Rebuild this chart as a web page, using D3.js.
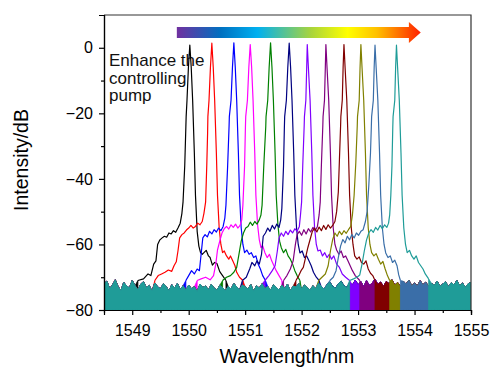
<!DOCTYPE html>
<html>
<head>
<meta charset="utf-8">
<script src="https://cdn.jsdelivr.net/npm/d3@7"></script>
<style>
  body { margin: 0; background: #fff; }
  text { font-family: Arial, "Liberation Sans", sans-serif; }
</style>
</head>
<body>
<div id="chart"></div>
<script>
// spectra: [wavelength nm, intensity dB]
var sBlack = [[1549.10,-71],[1549.20,-70.5],[1549.28,-69],[1549.33,-69.5],[1549.38,-66],[1549.42,-65],[1549.45,-60],[1549.49,-58.6],[1549.53,-58],[1549.57,-57.5],[1549.61,-57.8],[1549.65,-56.5],[1549.69,-56.8],[1549.73,-55.8],[1549.77,-56.3],[1549.81,-55],[1549.85,-53.5],[1549.88,-50.5],[1549.90,-47],[1549.93,-36],[1549.95,-24],[1549.955,-21],[1549.97,-16],[1549.995,-6],[1550.02,0.8],[1550.045,-6],[1550.07,-16],[1550.10,-32],[1550.12,-45],[1550.15,-56],[1550.18,-60.5],[1550.21,-62.5],[1550.24,-63],[1550.27,-62.5],[1550.31,-61.8],[1550.35,-63.5],[1550.38,-64],[1550.42,-66.3],[1550.46,-65.5],[1550.50,-65.8],[1550.55,-68.3],[1550.60,-69.5],[1550.66,-71]];
var sRed = [[1549.40,-71],[1549.46,-69.5],[1549.52,-69],[1549.58,-68.5],[1549.64,-67.8],[1549.70,-68.2],[1549.74,-66.5],[1549.78,-65.3],[1549.81,-62],[1549.84,-58],[1549.88,-57],[1549.92,-56.5],[1549.96,-55.6],[1550.00,-55],[1550.04,-54.2],[1550.08,-55],[1550.12,-54.5],[1550.16,-53.5],[1550.20,-54],[1550.24,-53],[1550.27,-50.5],[1550.30,-47],[1550.32,-36],[1550.335,-26],[1550.34,-21],[1550.36,-16],[1550.385,-6],[1550.41,1.4],[1550.435,-6],[1550.46,-16],[1550.49,-32],[1550.51,-45],[1550.54,-55],[1550.57,-60],[1550.60,-62.5],[1550.63,-62],[1550.67,-63.5],[1550.71,-64.5],[1550.74,-63.5],[1550.78,-65],[1550.82,-66.5],[1550.85,-68.5],[1550.90,-70],[1550.96,-71]];
var sBlue = [[1549.95,-71],[1550.00,-69.5],[1550.05,-68],[1550.10,-69],[1550.15,-67.5],[1550.19,-68],[1550.22,-63],[1550.25,-58],[1550.29,-57],[1550.33,-57.7],[1550.37,-56],[1550.41,-56.8],[1550.45,-55.5],[1550.49,-56.2],[1550.53,-55],[1550.57,-55.8],[1550.61,-54.5],[1550.64,-52],[1550.66,-48],[1550.69,-36],[1550.715,-24],[1550.72,-21],[1550.75,-16],[1550.775,-6],[1550.80,1.5],[1550.825,-6],[1550.85,-16],[1550.88,-32],[1550.90,-45],[1550.93,-55],[1550.96,-60],[1550.99,-62.5],[1551.03,-61.7],[1551.07,-63],[1551.11,-62.5],[1551.15,-64],[1551.19,-63.5],[1551.23,-66],[1551.27,-67.5],[1551.31,-69.5],[1551.36,-71]];
var sMagenta = [[1550.15,-71],[1550.22,-70.5],[1550.30,-70],[1550.38,-70.8],[1550.44,-69.5],[1550.48,-66],[1550.51,-61.7],[1550.55,-59],[1550.59,-56.5],[1550.63,-55.2],[1550.67,-54.5],[1550.71,-55.3],[1550.75,-54],[1550.79,-54.8],[1550.83,-53.8],[1550.87,-55],[1550.91,-54.2],[1550.94,-52.5],[1550.96,-48],[1550.99,-36],[1551.005,-24],[1551.01,-21],[1551.04,-16],[1551.065,-6],[1551.09,1],[1551.115,-6],[1551.14,-16],[1551.17,-32],[1551.19,-45],[1551.22,-54],[1551.25,-58.5],[1551.28,-61],[1551.31,-60.4],[1551.35,-62.5],[1551.39,-64],[1551.43,-63],[1551.47,-65],[1551.51,-66.5],[1551.55,-68],[1551.60,-69.5],[1551.65,-71]];
var sGreen = [[1550.60,-71],[1550.67,-70],[1550.74,-69.5],[1550.80,-68.5],[1550.85,-67],[1550.89,-63],[1550.93,-59],[1550.97,-56.5],[1551.01,-55],[1551.05,-54.5],[1551.09,-53.2],[1551.13,-54.2],[1551.17,-53],[1551.21,-53.8],[1551.25,-52.5],[1551.28,-51],[1551.30,-48],[1551.33,-36],[1551.365,-24],[1551.37,-21],[1551.40,-16],[1551.425,-6],[1551.45,1.5],[1551.475,-6],[1551.50,-16],[1551.53,-32],[1551.55,-45],[1551.58,-54],[1551.61,-59],[1551.64,-61],[1551.68,-62.5],[1551.72,-61.5],[1551.76,-63.5],[1551.80,-64.5],[1551.84,-66],[1551.88,-68],[1551.92,-69.5],[1551.97,-71]];
var sNavy = [[1550.95,-71],[1551.02,-70],[1551.08,-67.5],[1551.12,-65.5],[1551.17,-66.5],[1551.21,-65],[1551.25,-66],[1551.29,-63],[1551.32,-57.5],[1551.36,-56.5],[1551.40,-55],[1551.44,-56],[1551.48,-54.2],[1551.52,-55.3],[1551.56,-53.8],[1551.60,-54.8],[1551.63,-52.5],[1551.65,-49],[1551.68,-36],[1551.695,-24],[1551.70,-21],[1551.73,-16],[1551.755,-6],[1551.78,1.4],[1551.805,-6],[1551.83,-16],[1551.86,-32],[1551.88,-45],[1551.91,-55],[1551.94,-60],[1551.97,-62.6],[1552.01,-62],[1552.05,-64],[1552.09,-63.5],[1552.13,-65],[1552.17,-66.5],[1552.21,-68.5],[1552.26,-70],[1552.31,-71]];
var sViolet = [[1551.35,-71],[1551.42,-69.5],[1551.48,-68],[1551.53,-66.5],[1551.57,-62],[1551.60,-58],[1551.64,-56.5],[1551.68,-57.5],[1551.72,-56],[1551.76,-57],[1551.80,-55.6],[1551.84,-56.5],[1551.88,-55.2],[1551.92,-56],[1551.96,-54.5],[1551.98,-51],[1552.00,-47],[1552.02,-36],[1552.045,-24],[1552.05,-21],[1552.075,-16],[1552.09,-6],[1552.10,1],[1552.12,-6],[1552.15,-16],[1552.18,-32],[1552.20,-45],[1552.23,-55],[1552.26,-60],[1552.29,-62],[1552.33,-61.7],[1552.37,-63.5],[1552.41,-62.5],[1552.45,-64],[1552.49,-63],[1552.53,-64.5],[1552.57,-63.5],[1552.62,-66],[1552.67,-67],[1552.72,-69],[1552.78,-70],[1552.85,-71]];
var sPurple = [[1551.68,-71],[1551.74,-69.5],[1551.80,-67.5],[1551.85,-65],[1551.89,-60],[1551.92,-57],[1551.96,-56],[1552.00,-57.2],[1552.04,-55.5],[1552.08,-56.8],[1552.12,-55.2],[1552.16,-56.2],[1552.20,-54.8],[1552.24,-55.8],[1552.28,-54.5],[1552.31,-51],[1552.33,-47],[1552.35,-36],[1552.375,-24],[1552.38,-21],[1552.405,-16],[1552.42,-6],[1552.43,1],[1552.45,-6],[1552.48,-16],[1552.51,-32],[1552.53,-45],[1552.56,-55],[1552.59,-60],[1552.62,-61.7],[1552.66,-63],[1552.70,-62],[1552.74,-64],[1552.78,-63.5],[1552.82,-65],[1552.86,-66.5],[1552.90,-68],[1552.95,-69.5],[1553.03,-71]];
var sWine = [[1551.90,-71],[1551.95,-69.5],[1551.99,-68],[1552.03,-67],[1552.07,-64],[1552.11,-61],[1552.15,-58.5],[1552.19,-56],[1552.23,-55],[1552.27,-56.2],[1552.31,-54.7],[1552.35,-55.8],[1552.39,-54.2],[1552.43,-55.4],[1552.47,-54],[1552.51,-55],[1552.55,-54.2],[1552.59,-53],[1552.62,-50],[1552.65,-44],[1552.67,-34],[1552.69,-24],[1552.695,-21],[1552.72,-16],[1552.735,-6],[1552.75,1],[1552.77,-6],[1552.80,-16],[1552.83,-32],[1552.85,-45],[1552.88,-55],[1552.91,-60],[1552.94,-63.5],[1552.98,-64.5],[1553.02,-63.8],[1553.06,-65.5],[1553.10,-66],[1553.14,-65],[1553.18,-67.5],[1553.22,-68.8],[1553.26,-69.5],[1553.30,-71]];
var sOlive = [[1552.30,-71],[1552.36,-70],[1552.42,-69],[1552.47,-66.5],[1552.51,-62],[1552.55,-58.5],[1552.59,-56.5],[1552.63,-57.5],[1552.67,-56],[1552.71,-57],[1552.75,-55.8],[1552.79,-56.6],[1552.83,-55.5],[1552.87,-54.5],[1552.90,-51],[1552.93,-45],[1552.96,-35],[1552.985,-24],[1552.99,-21],[1553.02,-16],[1553.035,-6],[1553.05,1],[1553.07,-6],[1553.10,-16],[1553.13,-32],[1553.15,-45],[1553.18,-55],[1553.21,-60],[1553.24,-62.5],[1553.28,-63.5],[1553.32,-62.8],[1553.36,-64.5],[1553.40,-66],[1553.44,-65.2],[1553.48,-67.5],[1553.52,-69.5],[1553.56,-71]];
var sRoyal = [[1552.50,-71],[1552.56,-70],[1552.61,-68],[1552.65,-64],[1552.69,-60.5],[1552.73,-58.5],[1552.77,-59.5],[1552.81,-57.5],[1552.85,-58.6],[1552.89,-57],[1552.93,-58],[1552.97,-56.5],[1553.01,-57.2],[1553.05,-56],[1553.09,-55.5],[1553.13,-53],[1553.16,-50],[1553.19,-42],[1553.22,-32],[1553.235,-24],[1553.24,-21],[1553.27,-16],[1553.285,-6],[1553.30,0.8],[1553.32,-6],[1553.35,-16],[1553.38,-32],[1553.40,-45],[1553.43,-55],[1553.46,-60],[1553.49,-62.6],[1553.53,-64],[1553.57,-63.5],[1553.61,-65.5],[1553.65,-64.8],[1553.69,-66.5],[1553.72,-69.3],[1553.75,-71]];
var sCyan = [[1552.85,-71],[1552.92,-70.5],[1552.98,-70],[1553.03,-69.3],[1553.07,-66],[1553.11,-62],[1553.15,-58.6],[1553.19,-56.5],[1553.23,-55.5],[1553.27,-56.3],[1553.31,-54.8],[1553.35,-55.6],[1553.39,-54.2],[1553.43,-55.2],[1553.47,-54],[1553.51,-54.8],[1553.54,-53.5],[1553.56,-51],[1553.58,-45],[1553.60,-36],[1553.615,-24],[1553.62,-21],[1553.65,-16],[1553.665,-6],[1553.68,0.8],[1553.70,-6],[1553.73,-16],[1553.76,-32],[1553.78,-45],[1553.81,-55],[1553.84,-60],[1553.87,-62.5],[1553.91,-61.8],[1553.95,-63.5],[1553.99,-64.5],[1554.03,-63.5],[1554.07,-65.5],[1554.11,-66.5],[1554.15,-67.5],[1554.19,-69],[1554.25,-70.5]];

// noise floor top edge, every 0.05 nm from 1548.5 nm
var floorStart = 1548.5, floorStep = 0.05;
var floorTop = [
  -72.0,-71.2,-73.5,-72.4,-70.8,-72.9,-74.1,-71.6,-72.7,-73.3,
  -71.0,-72.6,-73.9,-72.1,-71.4,-73.2,-72.5,-74.3,-71.8,-72.9,
  -73.6,-72.0,-72.8,-74.2,-72.3,-73.4,-71.9,-73.8,-72.6,-74.0,
  -72.4,-73.5,-72.9,-74.4,-72.1,-73.1,-72.7,-73.9,-72.2,-73.3,
  -74.0,-72.5,-73.2,-74.1,-72.8,-73.6,-71.9,-73.0,-73.8,-72.4,
  -72.9,-73.7,-72.2,-74.3,-72.6,-73.3,-72.0,-73.5,-72.8,-74.0,
  -72.3,-73.1,-73.9,-72.5,-73.4,-72.1,-74.2,-72.7,-73.0,-71.9,
  -73.6,-72.4,-73.2,-74.0,-72.6,-73.5,-71.8,-72.9,-73.7,-72.2,
  -71.5,-72.8,-73.4,-72.0,-71.2,-72.6,-73.1,-71.7,-72.4,-70.9,
  -72.3,-71.4,-72.9,-71.1,-72.5,-71.8,-70.6,-72.2,-71.5,-72.8,
  -71.3,-72.0,-70.8,-72.4,-71.6,-72.9,-71.2,-72.1,-70.9,-72.6,
  -71.8,-72.7,-71.1,-72.3,-71.5,-73.0,-71.9,-72.5,-71.2,-72.8,
  -72.1,-71.4,-72.9,-71.7,-72.4,-71.0,-72.6,-71.8,-73.1,-72.0,
  -71.6];

var seriesData = [sBlack, sRed, sBlue, sMagenta, sGreen, sNavy, sViolet, sPurple, sWine, sOlive, sRoyal, sCyan];
var seriesColors = ["#000000", "#ff0000", "#0000ff", "#ff00ff", "#008000", "#000080",
  "#8000ff", "#800080", "#800000", "#808000", "#3a6ea8", "#1f9c98"];

var xTicks = [1549, 1550, 1551, 1552, 1553, 1554, 1555];
var xMinor = [1549.5, 1550.5, 1551.5, 1552.5, 1553.5, 1554.5];
var yTicks = [-80, -60, -40, -20, 0];
var yMinor = [-70, -50, -30, -10];

var W = 493, H = 370;
var margin = {top: 15, right: 22, bottom: 60, left: 104};

var svg = d3.select("#chart").append("svg")
  .attr("width", W).attr("height", H)
  .style("background", "#fff");

var x = d3.scaleLinear().domain([1548.5, 1555]).range([margin.left, W - margin.right]);
var y = d3.scaleLinear().domain([-80, 10]).range([H - margin.bottom, margin.top]);

svg.append("defs").append("clipPath").attr("id", "plot")
  .append("rect")
  .attr("x", x.range()[0]).attr("y", y.range()[1])
  .attr("width", x.range()[1] - x.range()[0])
  .attr("height", y.range()[0] - y.range()[1]);

// annotation text
var note = svg.append("text").attr("x", x.range()[0] + 5).attr("y", 66)
  .style("font-size", "17px").attr("fill", "#111");
["Enhance the", "controlling", "pump"].forEach(function(t, i) {
  note.append("tspan").attr("x", x.range()[0] + 5).attr("dy", i ? 17.5 : 0).text(t);
});

// gradient arrow
var grad = svg.select("defs").append("linearGradient").attr("id", "rainbow")
  .attr("gradientUnits", "userSpaceOnUse")
  .attr("x1", x(1549.79)).attr("x2", x(1554.11)).attr("y1", 0).attr("y2", 0);
[[0, "#7030a0"], [0.18, "#0070c0"], [0.33, "#00b0f0"], [0.55, "#a8d43c"],
 [0.7, "#ffff00"], [0.82, "#ffc000"], [1, "#ff2000"]].forEach(function(s) {
  grad.append("stop").attr("offset", s[0]).attr("stop-color", s[1]);
});
var ay = y(4.66), ax0 = x(1549.79), ax1 = x(1553.90), ax2 = x(1554.11);
svg.append("path")
  .attr("d", "M" + ax0 + "," + (ay - 5.5) + "H" + ax1 + "V" + (ay - 10.5) +
       "L" + ax2 + "," + ay + "L" + ax1 + "," + (ay + 10.5) + "V" + (ay + 5.5) + "H" + ax0 + "Z")
  .attr("fill", "url(#rainbow)");

// spectra
var floorPts = floorTop.map(function(v, i) { return [floorStart + i * floorStep, v]; });
var line = d3.line().x(function(d) { return x(d[0]); }).y(function(d) { return y(d[1]); });
var area = d3.area().x(function(d) { return x(d[0]); })
  .y0(y(-80)).y1(function(d) { return y(d[1]); });

var plot = svg.append("g").attr("clip-path", "url(#plot)");
seriesData.forEach(function(pts, i) {
  var a = pts[0][0], b = pts[pts.length - 1][0];
  var left = floorPts.filter(function(d) { return d[0] < a; }).concat([pts[0]]);
  var right = [pts[pts.length - 1]].concat(floorPts.filter(function(d) { return d[0] > b; }));
  [left, right].forEach(function(seg) {
    plot.append("path").attr("d", area(seg))
      .attr("fill", seriesColors[i]).attr("stroke", seriesColors[i]).attr("stroke-width", 0.8);
  });
  plot.append("path").attr("d", line(pts))
    .attr("fill", "none").attr("stroke", seriesColors[i])
    .attr("stroke-width", 1.2).attr("stroke-linejoin", "round");
});

// frame
svg.append("path")
  .attr("d", "M" + x.range()[0] + "," + y.range()[1] + "H" + x.range()[1] + "V" + y.range()[0])
  .attr("fill", "none").attr("stroke", "#333").attr("stroke-width", 1.2);

// axes
function styleAxis(g) {
  g.select(".domain").attr("stroke", "#000").attr("stroke-width", 1.2);
  g.selectAll(".tick line").attr("stroke", "#000").attr("stroke-width", 1.2);
  g.selectAll(".tick text").style("font-size", "16px").attr("fill", "#000");
}
svg.append("g").attr("transform", "translate(0," + y.range()[0] + ")")
  .call(d3.axisBottom(x).tickValues(xMinor).tickSize(3).tickFormat(""))
  .call(styleAxis);
svg.append("g").attr("transform", "translate(0," + y.range()[0] + ")")
  .call(d3.axisBottom(x).tickValues(xTicks).tickSize(5).tickPadding(10).tickFormat(d3.format("d")))
  .call(styleAxis);
svg.append("g").attr("transform", "translate(" + x.range()[0] + ",0)")
  .call(d3.axisLeft(y).tickValues(yMinor).tickSize(3).tickFormat(""))
  .call(styleAxis);
svg.append("g").attr("transform", "translate(" + x.range()[0] + ",0)")
  .call(d3.axisLeft(y).tickValues(yTicks).tickSize(5).tickPadding(6))
  .call(styleAxis);

svg.append("text").attr("x", 287).attr("y", 363)
  .attr("text-anchor", "middle").style("font-size", "19.5px").text("Wavelength/nm");
svg.append("text").attr("transform", "translate(28,160) rotate(-90)")
  .attr("text-anchor", "middle").style("font-size", "19.5px").text("Intensity/dB");
</script>
</body>
</html>
